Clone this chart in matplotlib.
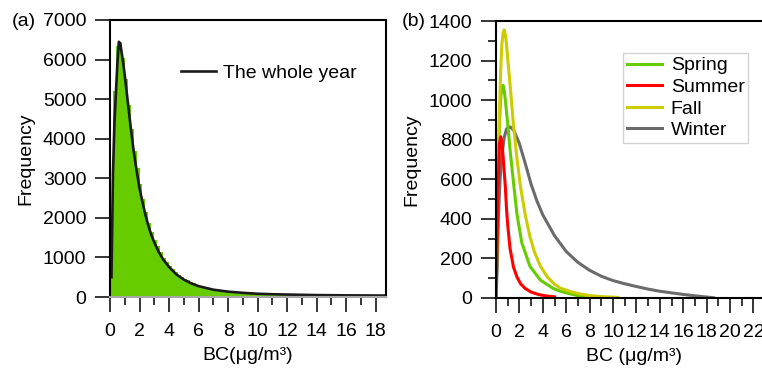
import matplotlib
matplotlib.use("Agg")
import matplotlib.pyplot as plt
import numpy as np
from matplotlib.ticker import MultipleLocator

plt.rcParams['font.family'] = ['Liberation Sans', 'DejaVu Sans']
plt.rcParams['font.size'] = 14

# (a) histogram of the whole year, bin width 0.2
bin_width = 0.2
bin_left = np.arange(94) * bin_width
hist_counts = [1100, 5200, 6350, 6450, 6050, 5500, 4850, 4250, 3700, 3250,
               2850, 2480, 2150, 1870, 1650, 1450, 1280, 1130, 990, 880,
               790, 700, 625, 560, 505, 460, 420, 380, 345, 315,
               290, 268, 248, 228, 210, 195, 180, 168, 158, 146,
               138, 128, 120, 112, 105, 98, 92, 86, 80, 76,
               72, 68, 65, 62, 60, 57, 55, 52, 50, 48,
               46, 44, 42, 41, 40, 38, 37, 36, 34, 33,
               32, 31, 30, 29, 28, 27, 26, 25, 25, 24,
               23, 22, 22, 21, 20, 20, 19, 19, 18, 17,
               17, 16, 16, 15]

# fitted curve, whole year
year_x = [0.1, 0.15, 0.2, 0.3, 0.4, 0.5, 0.6, 0.7, 0.8, 0.9, 1.0, 1.2, 1.4, 1.6, 1.8,
          2.0, 2.2, 2.4, 2.6, 2.8, 3.0, 3.3, 3.6, 4.0, 4.5, 5.0, 5.5, 6.0, 7.0,
          8.0, 9.0, 10, 11, 12, 13, 14, 16, 18.7]
year_y = [500, 1800, 3100, 4400, 5150, 5900, 6450, 6400, 6150, 5900, 5600, 4950, 4300, 3700, 3200,
          2750, 2400, 2080, 1800, 1570, 1380, 1140, 950, 760, 570, 440, 345, 275, 185,
          135, 105, 82, 70, 62, 55, 48, 42, 36]

# (b) fitted curves by season
spring_x = [0, 0.1, 0.2, 0.3, 0.4, 0.5, 0.6, 0.7, 0.8, 1.0, 1.2, 1.5, 1.8, 2.2, 2.9, 3.8, 4.9, 5.6, 6.4, 7.0, 7.6]
spring_y = [0, 300, 650, 880, 1010, 1065, 1075, 1050, 1000, 880, 750, 580, 420, 280, 160, 90, 48, 32, 20, 12, 6]

summer_x = [0, 0.1, 0.2, 0.3, 0.4, 0.5, 0.6, 0.7, 0.8, 0.9, 1.0, 1.2, 1.5, 1.8, 2.1, 2.5, 3.0, 3.5, 4.0, 4.5, 5.0]
summer_y = [0, 300, 600, 780, 815, 790, 720, 640, 560, 450, 370, 250, 155, 105, 72, 48, 30, 20, 13, 9, 6]

fall_x = [0, 0.1, 0.2, 0.3, 0.4, 0.5, 0.6, 0.7, 0.8, 0.9, 1.0, 1.2, 1.5, 1.8, 2.1, 2.5, 2.9, 3.3, 3.8,
          4.4, 5.0, 5.5, 6.4, 7.2, 8.0, 9.0, 10.4]
fall_y = [0, 350, 700, 950, 1150, 1280, 1340, 1355, 1330, 1280, 1210, 1080, 870, 700, 560, 420, 310, 230, 160,
          105, 70, 50, 32, 20, 12, 7, 3]

winter_x = [0, 0.1, 0.2, 0.35, 0.5, 0.7, 0.9, 1.2, 1.5, 2.0, 2.5, 3.0, 3.5, 4.0, 5.0, 6.0, 7.0, 8.0,
            9.0, 10, 11, 12, 13, 14, 15, 16, 17, 18, 18.6]
winter_y = [0, 150, 400, 600, 720, 810, 855, 865, 850, 780, 680, 575, 490, 420, 315, 235, 180, 140,
            110, 88, 72, 58, 45, 34, 26, 18, 11, 5, 1]

fig = plt.figure(figsize=(7.62, 3.69), dpi=100)
W, H = 762.0, 369.0
ax1 = fig.add_axes([110 / W, 72 / H, 276 / W, 277 / H])
ax2 = fig.add_axes([496 / W, 71 / H, 275 / W, 277 / H])

ax1.bar(bin_left, hist_counts, width=bin_width, align='edge', color='#66cc00', linewidth=0)
ax1.plot(year_x, year_y, color='#1a1a1a', lw=1.9, label='The whole year')
ax1.set_xlim(0, 18.7)
ax1.set_ylim(0, 7000)
ax1.xaxis.set_major_locator(MultipleLocator(2))
ax1.xaxis.set_minor_locator(MultipleLocator(1))
ax1.yaxis.set_major_locator(MultipleLocator(1000))
ax1.set_xlabel('BC(μg/m³)', labelpad=5)
ax1.set_ylabel('Frequency', labelpad=6)
ax1.spines['bottom'].set_color('#a8a8a8')
ax1.legend(loc='upper left', bbox_to_anchor=(181 / W, 1 - 64 / H), bbox_transform=fig.transFigure,
           frameon=False, borderpad=0, borderaxespad=0, handlelength=1.8, handletextpad=0.35)
fig.text(12 / W, 1 - 22 / H, '(a)', ha='left', va='center', fontsize=14)

lw = 2.2
l_w, = ax2.plot(winter_x, winter_y, color='#6b6b6b', lw=lw, label='Winter')
l_sp, = ax2.plot(spring_x, spring_y, color='#66cc00', lw=lw, label='Spring')
l_fa, = ax2.plot(fall_x, fall_y, color='#cccc00', lw=lw, label='Fall')
l_su, = ax2.plot(summer_x, summer_y, color='#ff0000', lw=lw, label='Summer')
ax2.set_xlim(0, 23.5)
ax2.set_ylim(0, 1400)
ax2.xaxis.set_major_locator(MultipleLocator(2))
ax2.xaxis.set_minor_locator(MultipleLocator(1))
ax2.yaxis.set_major_locator(MultipleLocator(200))
ax2.yaxis.set_minor_locator(MultipleLocator(100))
ax2.set_xlabel('BC (μg/m³)', labelpad=5)
ax2.set_ylabel('Frequency', labelpad=6)
leg = ax2.legend(handles=[l_sp, l_su, l_fa, l_w], loc='upper left',
                 bbox_to_anchor=(623 / W, 1 - 53 / H), bbox_transform=fig.transFigure,
                 frameon=True, fancybox=False, borderpad=0.2, borderaxespad=0,
                 labelspacing=0.2, handlelength=1.8, handletextpad=0.45)
leg.get_frame().set_edgecolor('#c8c8c8')
leg.get_frame().set_linewidth(1.0)
fig.text(402 / W, 1 - 22 / H, '(b)', ha='left', va='center', fontsize=14)

for ax in (ax1, ax2):
    for side in ('left', 'bottom', 'top', 'right'):
        ax.spines[side].set_linewidth(1.5)
    ax.tick_params(which='major', direction='out', length=11, width=1.1, pad=6)
    ax.tick_params(which='minor', direction='out', length=6, width=1.1)
    ax.tick_params(axis='x', which='major', pad=8)

fig.savefig('out.png', dpi=100)
